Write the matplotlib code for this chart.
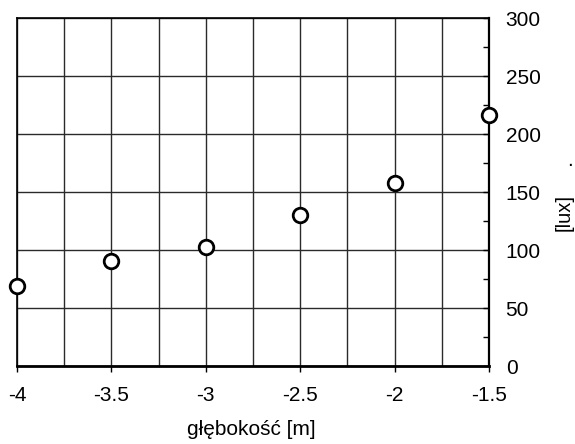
import numpy as np
import matplotlib.pyplot as plt
from matplotlib.ticker import MultipleLocator

plt.rcParams['font.family'] = ['Liberation Sans', 'DejaVu Sans']

depth = [-4.0, -3.5, -3.0, -2.5, -2.0, -1.5]
lux = [69, 91, 103, 130, 158, 217]
xticks = [-4, -3.5, -3, -2.5, -2, -1.5]
xticklabels = ['-4', '-3.5', '-3', '-2.5', '-2', '-1.5']

fig = plt.figure(figsize=(5.75, 4.44), dpi=100)
ax = fig.add_axes([0.0296, 0.175, 0.8208, 0.7838])

ax.plot(depth, lux, 'o', ms=10.5, mfc='white', mec='black', mew=2.0,
        clip_on=False, zorder=5)

ax.set_xlim(-4, -1.5)
ax.set_ylim(0, 300)
ax.set_xticks(xticks)
ax.set_xticklabels(xticklabels)
ax.xaxis.set_minor_locator(MultipleLocator(0.25))
ax.yaxis.set_major_locator(MultipleLocator(50))
ax.yaxis.set_minor_locator(MultipleLocator(25))

ax.grid(True, which='major', axis='y', color='#2a2a2a', lw=1.0)
ax.grid(True, which='both', axis='x', color='#2a2a2a', lw=1.0)

ax.yaxis.tick_right()
ax.tick_params(axis='y', which='both', direction='in', labelsize=15, pad=12,
               length=4, width=1, left=False, right=True)
ax.tick_params(axis='x', which='major', direction='out', length=4, width=1,
               labelsize=15, pad=10.5, top=False)
ax.tick_params(axis='x', which='minor', bottom=False, top=False)

for s in ax.spines.values():
    s.set_linewidth(1.2)
ax.spines['bottom'].set_linewidth(2)
ax.spines['right'].set_linewidth(1.6)

ax.set_xlabel('głębokość [m]', fontsize=15)
ax.xaxis.set_label_coords(0.496, -0.155)
fig.text(0.981, 0.5225, '[lux]', fontsize=14.5, rotation=90,
         ha='center', va='center')
fig.text(0.991, 0.626, '.', fontsize=15, ha='center', va='baseline')

fig.savefig('out.png', dpi=100)
